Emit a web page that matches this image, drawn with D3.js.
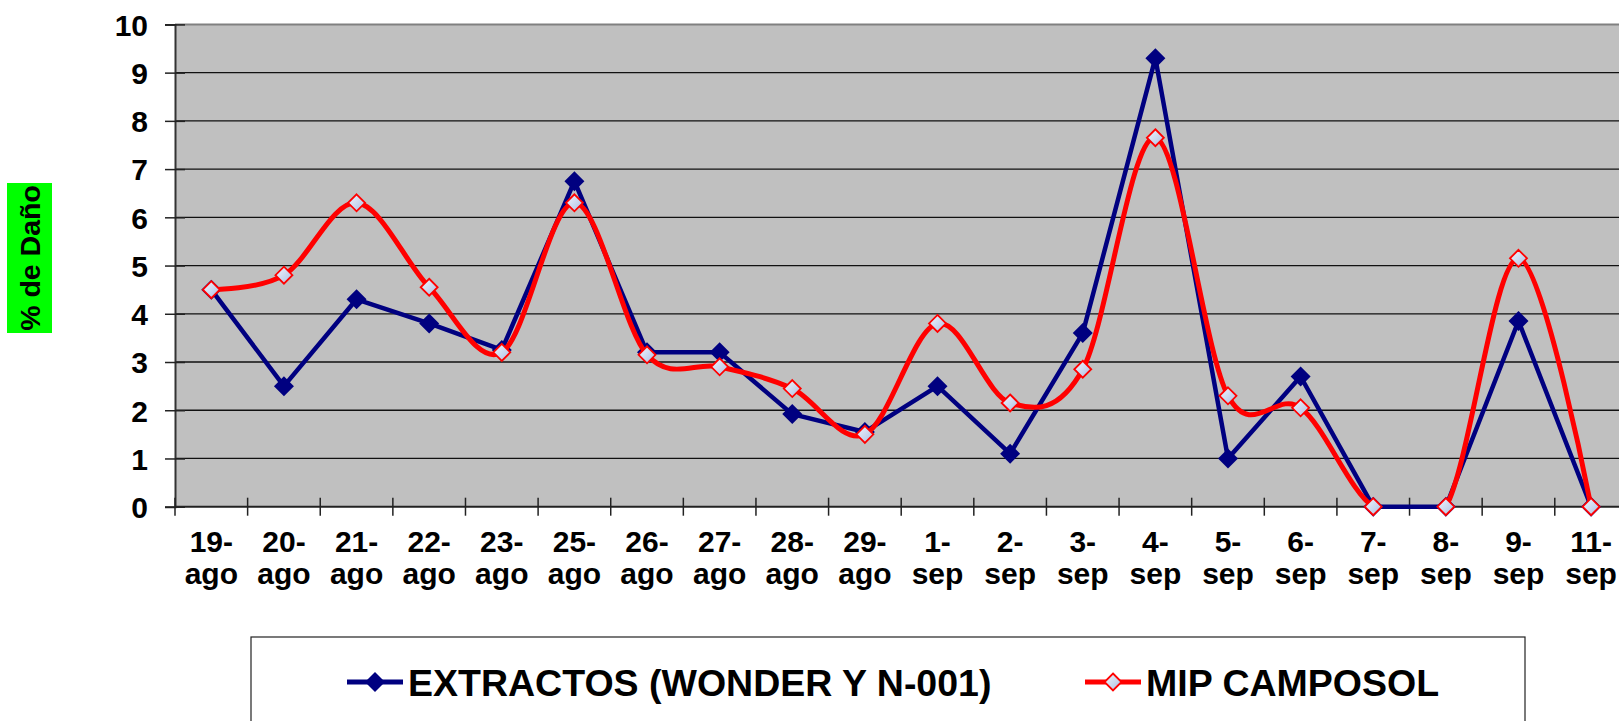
<!DOCTYPE html>
<html>
<head>
<meta charset="utf-8">
<script src="https://cdn.jsdelivr.net/npm/d3@7"></script>
<style>
  html, body { margin: 0; padding: 0; background: #fff; }
  svg { display: block; font-family: Arial, "Liberation Sans", sans-serif; }
</style>
</head>
<body>
<svg id="chart" width="1619" height="721"></svg>
<script>
const categories = ["19-ago","20-ago","21-ago","22-ago","23-ago","25-ago","26-ago","27-ago","28-ago","29-ago",
                    "1-sep","2-sep","3-sep","4-sep","5-sep","6-sep","7-sep","8-sep","9-sep","11-sep"];
const extractos = [4.5, 2.5, 4.3, 3.8, 3.25, 6.75, 3.2, 3.2, 1.92, 1.55,
                   2.5, 1.1, 3.6, 9.3, 1.0, 2.7, 0, 0, 3.85, 0];
const mipCamposol = [4.5, 4.8, 6.3, 4.55, 3.2, 6.3, 3.15, 2.9, 2.45, 1.5,
                     3.8, 2.15, 2.85, 7.65, 2.3, 2.05, 0, 0, 5.15, 0];
const yTicks = [0,1,2,3,4,5,6,7,8,9,10];
const seriesNames = ["EXTRACTOS (WONDER Y N-001)", "MIP CAMPOSOL"];
const yTitle = "% de Daño";

const svg = d3.select("#chart");
const plot = { left: 175, right: 1627.4, top: 24.4, bottom: 506.7 };

const x = d3.scaleBand().domain(categories).range([plot.left, plot.right]);
const y = d3.scaleLinear().domain([0, 10]).range([plot.bottom, plot.top]);

const defs = svg.append("defs");
const grad = defs.append("linearGradient").attr("id", "mkGrad")
  .attr("x1", "0%").attr("y1", "0%").attr("x2", "100%").attr("y2", "100%");
grad.append("stop").attr("offset", "0%").attr("stop-color", "#f4f7fd");
grad.append("stop").attr("offset", "100%").attr("stop-color", "#a9bde2");
defs.append("clipPath").attr("id", "plotClip").append("rect")
  .attr("x", plot.left).attr("y", plot.top - 10)
  .attr("width", plot.right - plot.left).attr("height", plot.bottom - plot.top + 12);

// plot background
svg.append("rect").attr("x", plot.left).attr("y", plot.top)
  .attr("width", plot.right - plot.left).attr("height", plot.bottom - plot.top)
  .attr("fill", "#c0c0c0");

// gridlines
svg.append("g").selectAll("line").data(yTicks.filter(d => d > 0)).join("line")
  .attr("x1", plot.left).attr("x2", plot.right)
  .attr("y1", d => y(d)).attr("y2", d => y(d))
  .attr("stroke", d => d === 10 ? "#808080" : "#111")
  .attr("stroke-width", d => d === 10 ? 2 : 1.3);

// y axis
const yAxis = svg.append("g").attr("transform", `translate(${plot.left},0)`)
  .call(d3.axisLeft(y).tickValues(yTicks).tickSize(10).tickPadding(18).tickFormat(d3.format("d")));
yAxis.select(".domain").attr("stroke", "#333").attr("stroke-width", 2);
yAxis.selectAll(".tick line").attr("x2", -10).attr("x1", 10).attr("stroke", "#222").attr("stroke-width", 1.5);
yAxis.selectAll(".tick text").attr("font-size", 30).attr("font-weight", "bold").attr("fill", "#000")
  .attr("dy", "0.36em").attr("x", -27);

// x axis (labels at band centers)
const xAxis = svg.append("g").attr("transform", `translate(0,${plot.bottom})`)
  .call(d3.axisBottom(x).tickSize(0).tickPadding(0));
xAxis.select(".domain").remove();
xAxis.selectAll(".tick text").each(function(d) {
  const parts = d.split("-");
  const t = d3.select(this).text(null).attr("font-size", 30).attr("font-weight", "bold").attr("fill", "#000")
    .attr("y", 0).attr("dy", null);
  t.append("tspan").attr("x", 0).attr("y", 45.5).text(parts[0] + "-");
  t.append("tspan").attr("x", 0).attr("y", 77.5).text(parts[1]);
});
// x axis line and boundary ticks
svg.append("line").attr("x1", plot.left).attr("x2", plot.right)
  .attr("y1", plot.bottom).attr("y2", plot.bottom).attr("stroke", "#222").attr("stroke-width", 2);
svg.append("g").selectAll("line").data(categories).join("line")
  .attr("x1", d => x(d)).attr("x2", d => x(d))
  .attr("y1", plot.bottom - 9).attr("y2", plot.bottom + 9)
  .attr("stroke", "#222").attr("stroke-width", 1.5);

// series
const blueLine = d3.line().x((d, i) => x(categories[i]) + x.bandwidth() / 2).y(d => y(d));
const redLine = d3.line().x((d, i) => x(categories[i]) + x.bandwidth() / 2).y(d => y(d))
  .curve(d3.curveCardinal.tension(0));

svg.append("path").datum(extractos).attr("d", blueLine)
  .attr("fill", "none").attr("stroke", "#000080").attr("stroke-width", 4.5).attr("stroke-linejoin", "round");
const diamond = s => `M0,${-s}L${s},0L0,${s}L${-s},0Z`;
svg.append("g").selectAll("path").data(extractos).join("path")
  .attr("transform", (d, i) => `translate(${x(categories[i]) + x.bandwidth() / 2},${y(d)})`)
  .attr("d", diamond(10)).attr("fill", "#000080");

svg.append("path").datum(mipCamposol).attr("d", redLine).attr("clip-path", "url(#plotClip)")
  .attr("fill", "none").attr("stroke", "#ff0000").attr("stroke-width", 5).attr("stroke-linejoin", "round");
svg.append("g").selectAll("path").data(mipCamposol).join("path")
  .attr("transform", (d, i) => `translate(${x(categories[i]) + x.bandwidth() / 2},${y(d)})`)
  .attr("d", diamond(8.5)).attr("fill", "url(#mkGrad)").attr("stroke", "#ff0000").attr("stroke-width", 1.8);

// y axis title
svg.append("rect").attr("x", 7).attr("y", 183).attr("width", 45).attr("height", 150).attr("fill", "#00ff00");
svg.append("text").attr("transform", "translate(30,258) rotate(-90)")
  .attr("text-anchor", "middle").attr("dy", "0.36em")
  .attr("font-size", 28.5).attr("font-weight", "bold").attr("fill", "#000").text(yTitle);

// legend
svg.append("rect").attr("x", 251).attr("y", 637).attr("width", 1274).attr("height", 120)
  .attr("fill", "#fff").attr("stroke", "#222").attr("stroke-width", 1.2);
const legendItems = [
  { name: seriesNames[0], x0: 347, color: "#000080", filled: true },
  { name: seriesNames[1], x0: 1085, color: "#ff0000", filled: false }
];
const lg = svg.append("g").selectAll("g").data(legendItems).join("g")
  .attr("transform", d => `translate(${d.x0},682)`);
lg.append("line").attr("x1", 0).attr("x2", 56).attr("y1", 0).attr("y2", 0)
  .attr("stroke", d => d.color).attr("stroke-width", 5);
lg.append("path").attr("transform", "translate(28,0)")
  .attr("d", d => d.filled ? diamond(10) : diamond(8.5))
  .attr("fill", d => d.filled ? d.color : "url(#mkGrad)")
  .attr("stroke", d => d.filled ? "none" : d.color).attr("stroke-width", 1.8);
lg.append("text").attr("x", 61).attr("dy", "0.36em")
  .attr("font-size", 37.5).attr("font-weight", "bold").attr("fill", "#000").text(d => d.name);
</script>
</body>
</html>
